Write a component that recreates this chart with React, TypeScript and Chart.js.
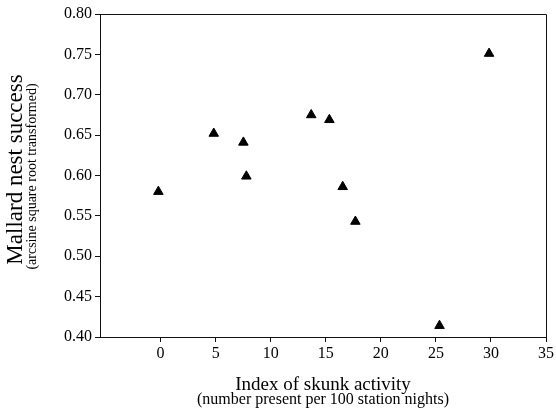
import React, { useEffect, useRef } from "react";
import { Chart, registerables } from "chart.js";

Chart.register(...registerables);

// Index of skunk activity (number present per 100 station nights)
const skunkIndex = [-0.2, 4.83, 7.52, 7.79, 13.68, 15.33, 16.54, 17.69, 25.33, 29.83];
// Mallard nest success (arcsine square root transformed)
const nestSuccess = [0.580, 0.652, 0.641, 0.599, 0.675, 0.669, 0.586, 0.543, 0.414, 0.751];

const xTicks = [0, 5, 10, 15, 20, 25, 30, 35];
const yTicks = [0.40, 0.45, 0.50, 0.55, 0.60, 0.65, 0.70, 0.75, 0.80];

const xTitle = "Index of skunk activity";
const xSubtitle = "(number present per 100 station nights)";
const yTitle = "Mallard nest success";
const ySubtitle = "(arcsine square root transformed)";

const SERIF = "'Liberation Serif', 'Times New Roman', serif";

const framePlugin = {
  id: "frameAndTitles",
  afterDraw(chart: any) {
    const { ctx, chartArea } = chart;
    const { left, right, top, bottom } = chartArea;
    ctx.save();
    ctx.strokeStyle = "#111";
    ctx.lineWidth = 1;
    ctx.beginPath();
    ctx.moveTo(left, top + 0.5);
    ctx.lineTo(right + 0.5, top + 0.5);
    ctx.lineTo(right + 0.5, bottom);
    ctx.stroke();

    ctx.fillStyle = "#000";
    ctx.textAlign = "center";
    ctx.textBaseline = "middle";
    const cx = (left + right) / 2;
    ctx.font = `19px ${SERIF}`;
    ctx.fillText(xTitle, cx, bottom + 48);
    ctx.font = `16px ${SERIF}`;
    ctx.fillText(xSubtitle, cx, bottom + 63);

    const cy = (top + bottom) / 2;
    ctx.save();
    ctx.translate(16, cy - 6);
    ctx.rotate(-Math.PI / 2);
    ctx.font = `23px ${SERIF}`;
    ctx.fillText(yTitle, 0, 0);
    ctx.restore();
    ctx.save();
    ctx.translate(32, cy + 1);
    ctx.rotate(-Math.PI / 2);
    ctx.font = `14px ${SERIF}`;
    ctx.fillText(ySubtitle, 0, 0);
    ctx.restore();
    ctx.restore();
  },
};

export default function App() {
  const canvasRef = useRef<HTMLCanvasElement | null>(null);

  useEffect(() => {
    if (!canvasRef.current) return;
    const points = skunkIndex.map((x, i) => ({ x, y: nestSuccess[i] }));
    const chart = new Chart(canvasRef.current, {
      type: "scatter",
      data: {
        datasets: [
          {
            data: points,
            pointStyle: "triangle",
            pointRadius: 5.5,
            pointBorderWidth: 1,
            backgroundColor: "#000",
            borderColor: "#000",
          },
        ],
      },
      options: {
        responsive: false,
        animation: false,
        layout: { padding: { left: 0, top: 14, right: 8, bottom: 0 } },
        plugins: {
          legend: { display: false },
          tooltip: { enabled: false },
        },
        scales: {
          x: {
            type: "linear",
            min: -5.5,
            max: 35,
            afterBuildTicks: (s: any) => {
              s.ticks = xTicks.map((v) => ({ value: v }));
            },
            afterFit: (s: any) => {
              s.height = 78;
            },
            ticks: {
              color: "#000",
              font: { family: SERIF, size: 16 },
              padding: 2,
              maxRotation: 0,
              callback: (v: any) => String(v),
            },
            grid: {
              drawOnChartArea: false,
              drawTicks: true,
              tickLength: 5,
              color: "#111",
            },
            border: { display: true, color: "#111", width: 1 },
          },
          y: {
            type: "linear",
            min: 0.4,
            max: 0.8,
            afterBuildTicks: (s: any) => {
              s.ticks = yTicks.map((v) => ({ value: v }));
            },
            afterFit: (s: any) => {
              s.width = 100;
            },
            ticks: {
              color: "#000",
              font: { family: SERIF, size: 16 },
              padding: 3,
              callback: (v: any) => Number(v).toFixed(2),
            },
            grid: {
              drawOnChartArea: false,
              drawTicks: true,
              tickLength: 5,
              color: "#111",
            },
            border: { display: true, color: "#111", width: 1 },
          },
        },
      },
      plugins: [framePlugin],
    });
    return () => chart.destroy();
  }, []);

  return (
    <div style={{ position: "fixed", left: 0, top: 0, width: 556, height: 415, background: "#fff" }}>
      <canvas ref={canvasRef} width={556} height={415} />
    </div>
  );
}
